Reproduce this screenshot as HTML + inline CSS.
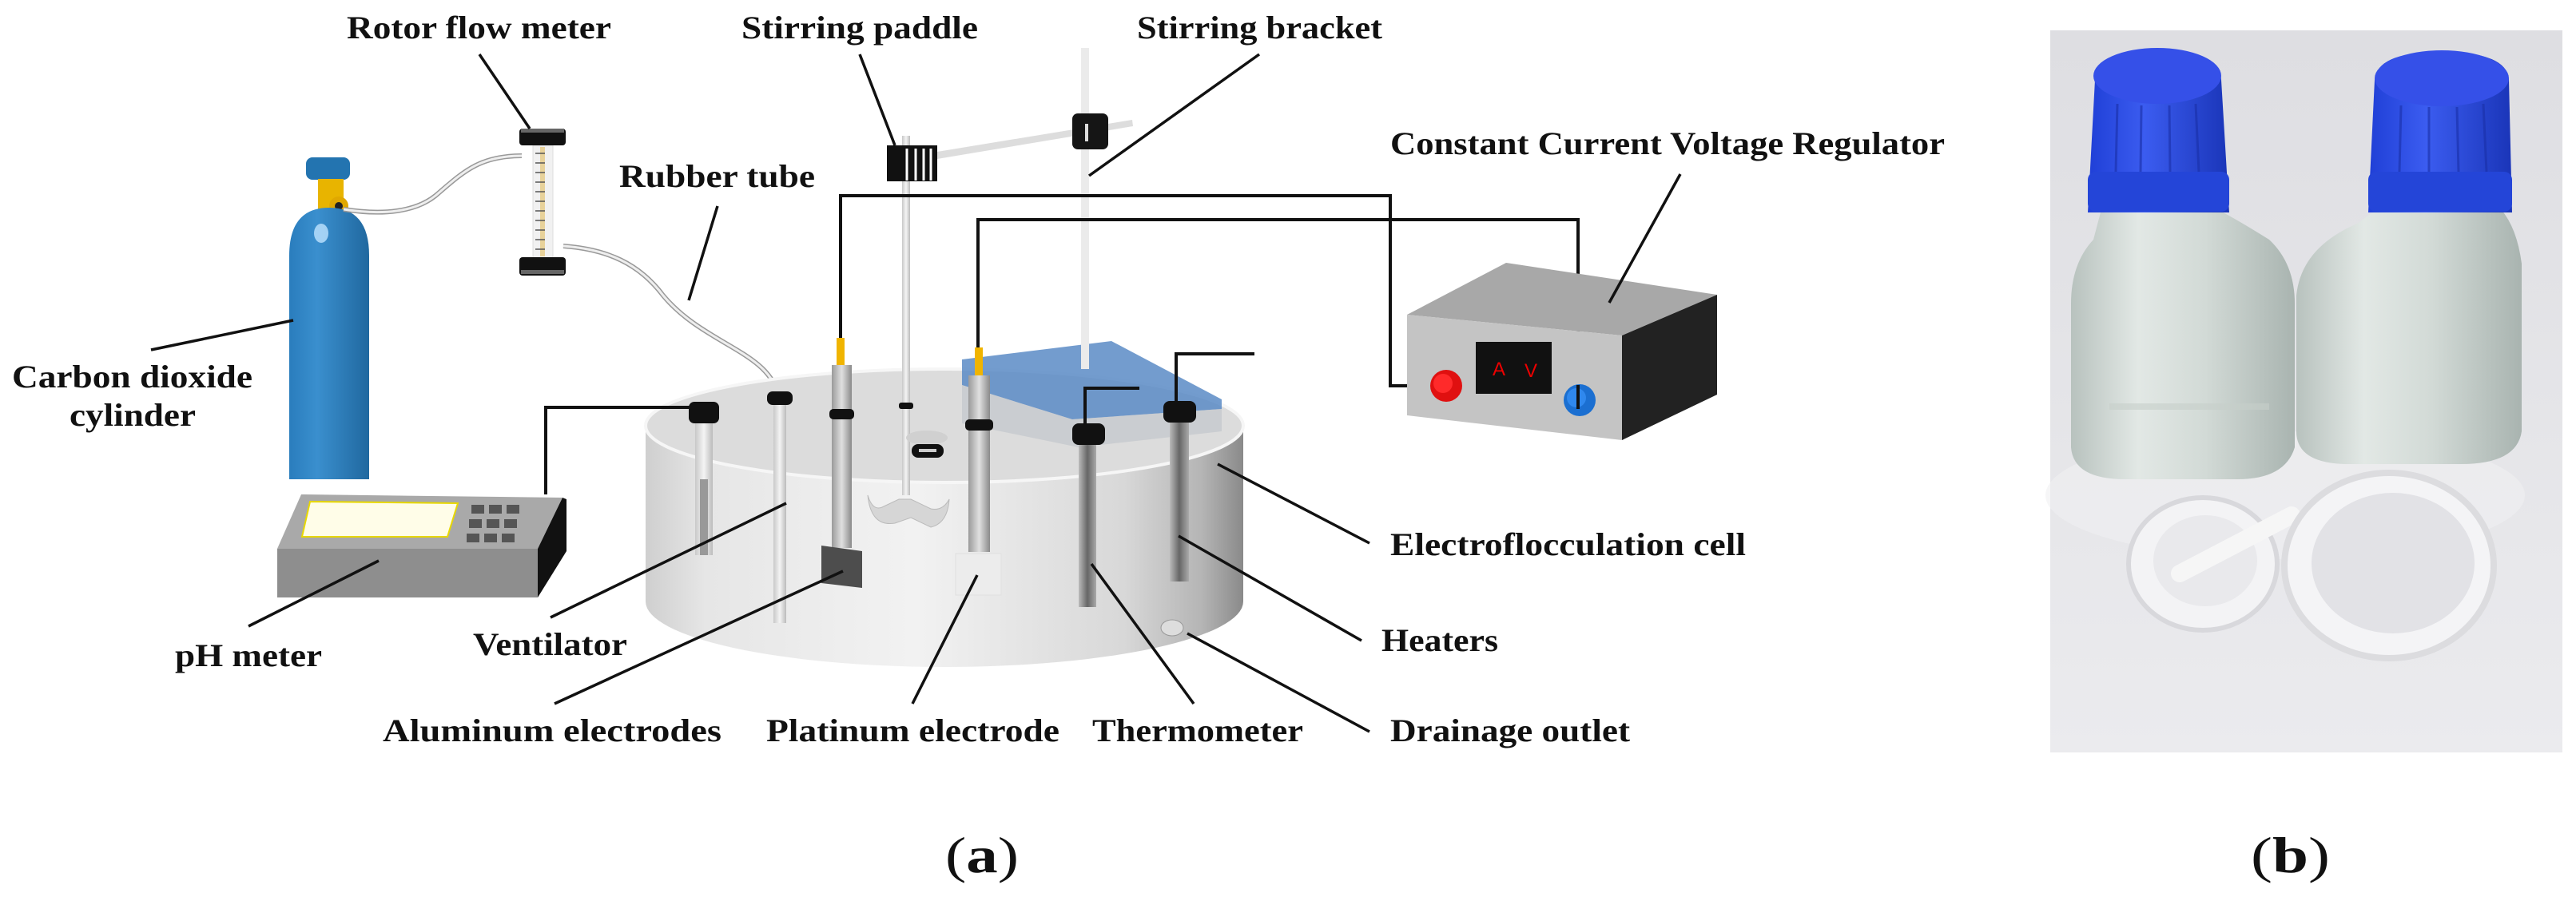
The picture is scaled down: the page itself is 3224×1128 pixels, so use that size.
<!DOCTYPE html>
<html><head><meta charset="utf-8"><style>
html,body{margin:0;padding:0;background:#fff;}
svg{display:block;}
text{font-family:"Liberation Serif",serif;font-weight:bold;fill:#111;}
</style></head><body>
<svg width="3224" height="1128" viewBox="0 0 3224 1128" xmlns="http://www.w3.org/2000/svg">
<defs>
<linearGradient id="cyl" x1="0" x2="1"><stop offset="0" stop-color="#2a7dbd"/><stop offset="0.35" stop-color="#3a8fce"/><stop offset="1" stop-color="#20689f"/></linearGradient>
<linearGradient id="cell" x1="0" x2="1"><stop offset="0" stop-color="#cfcfcf"/><stop offset="0.1" stop-color="#e6e6e6"/><stop offset="0.45" stop-color="#f2f2f2"/><stop offset="0.8" stop-color="#d8d8d8"/><stop offset="0.93" stop-color="#b5b5b5"/><stop offset="1" stop-color="#8a8a8a"/></linearGradient>
<linearGradient id="rod" x1="0" x2="1"><stop offset="0" stop-color="#9a9a9a"/><stop offset="0.5" stop-color="#e0e0e0"/><stop offset="1" stop-color="#8a8a8a"/></linearGradient>
<linearGradient id="grod" x1="0" x2="1"><stop offset="0" stop-color="#c8c8c8"/><stop offset="0.5" stop-color="#f4f4f4"/><stop offset="1" stop-color="#bbb"/></linearGradient>
<linearGradient id="dk" x1="0" x2="1"><stop offset="0" stop-color="#bbb"/><stop offset="0.5" stop-color="#666"/><stop offset="1" stop-color="#aaa"/></linearGradient>
<linearGradient id="photo" x1="0" y1="0" x2="0" y2="1"><stop offset="0" stop-color="#dedee2"/><stop offset="1" stop-color="#ebebee"/></linearGradient>
<linearGradient id="bottle" x1="0" x2="1"><stop offset="0" stop-color="#b8c2be"/><stop offset="0.3" stop-color="#e2e8e5"/><stop offset="0.6" stop-color="#d2dad6"/><stop offset="1" stop-color="#a9b4b0"/></linearGradient>
<linearGradient id="cap" x1="0" x2="1"><stop offset="0" stop-color="#1f3fd6"/><stop offset="0.4" stop-color="#3b5cf0"/><stop offset="1" stop-color="#1a35b8"/></linearGradient>
</defs>

<!-- CO2 cylinder -->
<rect x="383" y="197" width="55" height="28" rx="8" fill="#2374b0"/>
<rect x="398" y="224" width="32" height="44" fill="#e8b400"/>
<circle cx="424" cy="258" r="12" fill="#e0a800"/><circle cx="424" cy="258" r="5" fill="#222"/>
<path d="M362 600 L362 320 Q362 260 412 260 Q462 260 462 320 L462 600 Z" fill="url(#cyl)"/>
<ellipse cx="402" cy="292" rx="9" ry="12" fill="#bfe3ff" opacity="0.8"/>
<path d="M430 262 C480 270 520 265 545 245 C580 215 600 195 653 195" fill="none" stroke="#999" stroke-width="6"/>
<path d="M430 262 C480 270 520 265 545 245 C580 215 600 195 653 195" fill="none" stroke="#eee" stroke-width="3"/>
<!-- flowmeter -->
<rect x="667" y="182" width="25" height="141" fill="#f1f1f1" stroke="#ddd"/>
<rect x="676" y="184" width="6" height="137" fill="#e8d29a"/>
<g stroke="#555" stroke-width="1.5">
<line x1="670" y1="192" x2="682" y2="192"/><line x1="670" y1="204" x2="682" y2="204"/><line x1="670" y1="216" x2="682" y2="216"/><line x1="670" y1="228" x2="682" y2="228"/><line x1="670" y1="240" x2="682" y2="240"/><line x1="670" y1="252" x2="682" y2="252"/><line x1="670" y1="264" x2="682" y2="264"/><line x1="670" y1="276" x2="682" y2="276"/><line x1="670" y1="288" x2="682" y2="288"/><line x1="670" y1="300" x2="682" y2="300"/><line x1="670" y1="312" x2="682" y2="312"/></g>
<rect x="650" y="161" width="58" height="21" rx="4" fill="#111"/><rect x="652" y="161" width="54" height="5" fill="#666"/>
<rect x="650" y="322" width="58" height="23" rx="4" fill="#111"/><rect x="652" y="338" width="54" height="5" fill="#666"/>
<path d="M705 308 C760 312 800 330 830 370 C880 430 960 440 973 492" fill="none" stroke="#999" stroke-width="6"/>
<path d="M705 308 C760 312 800 330 830 370 C880 430 960 440 973 492" fill="none" stroke="#eee" stroke-width="3"/>

<!-- pH meter -->
<polygon points="377,619 704,623 673,687 347,687" fill="#a9a9a9"/>
<polygon points="388,628 573,630 560,672 378,672" fill="#fffde8" stroke="#e8d800" stroke-width="2"/>
<g fill="#555"><rect x="590" y="632" width="16" height="11"/><rect x="612" y="632" width="16" height="11"/><rect x="634" y="632" width="16" height="11"/><rect x="587" y="650" width="16" height="11"/><rect x="609" y="650" width="16" height="11"/><rect x="631" y="650" width="16" height="11"/><rect x="584" y="668" width="16" height="11"/><rect x="606" y="668" width="16" height="11"/><rect x="628" y="668" width="16" height="11"/></g>
<rect x="347" y="687" width="326" height="61" fill="#8e8e8e"/>
<polygon points="673,687 704,623 709,625 709,690 673,748" fill="#111"/>

<!-- cell -->
<path d="M808 533 L808 753 A374 82 0 0 0 1556 753 L1556 533 Z" fill="url(#cell)"/>
<ellipse cx="1182" cy="533" rx="374" ry="71" fill="#dcdcdc" stroke="#f6f6f6" stroke-width="4"/>
<polygon points="1204,450 1391,427 1529,500 1529,512 1342,525 1204,482" fill="#5b8bc6" opacity="0.85"/>
<polygon points="1204,482 1342,525 1529,512 1529,540 1350,560 1204,530" fill="#b8bdc6" opacity="0.5"/>
<rect x="1353" y="60" width="10" height="402" fill="#ebebeb"/>
<polygon points="1173,190 1417,150 1418,158 1173,199" fill="#ddd"/>
<rect x="1342" y="142" width="45" height="45" rx="7" fill="#151515"/>
<rect x="1358" y="155" width="4" height="22" fill="#ddd"/>
<rect x="1129" y="170" width="10" height="450" fill="url(#grod)"/>
<rect x="1110" y="182" width="63" height="45" fill="#111"/>
<g stroke="#fff" stroke-width="3"><line x1="1135" y1="186" x2="1135" y2="226"/><line x1="1146" y1="186" x2="1146" y2="226"/><line x1="1156" y1="186" x2="1156" y2="226"/><line x1="1165" y1="186" x2="1165" y2="226"/></g>
<rect x="1125" y="504" width="18" height="8" rx="3" fill="#111"/>
<ellipse cx="1160" cy="548" rx="26" ry="9" fill="#d0d0d0"/>
<rect x="1141" y="556" width="40" height="17" rx="8" fill="#111"/><rect x="1150" y="562" width="22" height="4" fill="#ccc"/>
<path d="M1086 620 Q1092 640 1104 635 L1125 625 L1140 625 L1165 637 Q1180 640 1188 625 Q1186 655 1165 660 L1140 648 L1120 655 Q1090 660 1086 620 Z" fill="#d6d6d6" stroke="#bbb"/>
<rect x="870" y="525" width="22" height="170" fill="url(#grod)"/><rect x="876" y="600" width="10" height="95" fill="#999"/>
<rect x="862" y="503" width="38" height="27" rx="7" fill="#111"/>
<rect x="968" y="500" width="16" height="280" fill="url(#grod)"/>
<rect x="960" y="490" width="32" height="17" rx="7" fill="#111"/>
<rect x="1047" y="423" width="10" height="36" fill="#f0b400"/>
<rect x="1041" y="457" width="25" height="229" fill="url(#rod)"/>
<rect x="1038" y="512" width="31" height="13" rx="5" fill="#111"/>
<polygon points="1028,683 1079,690 1079,736 1028,730" fill="#4d4d4d"/>
<rect x="1220" y="435" width="10" height="36" fill="#f0b400"/>
<rect x="1212" y="470" width="27" height="221" fill="url(#rod)"/>
<rect x="1208" y="525" width="35" height="14" rx="5" fill="#111"/>
<rect x="1196" y="693" width="57" height="52" fill="#ececec" stroke="#e0e0e0"/>
<rect x="1350" y="550" width="22" height="210" fill="url(#dk)"/>
<rect x="1342" y="530" width="41" height="27" rx="8" fill="#111"/>
<rect x="1464" y="520" width="24" height="208" fill="url(#dk)"/>
<rect x="1456" y="502" width="41" height="27" rx="8" fill="#111"/>
<ellipse cx="1467" cy="786" rx="14" ry="10" fill="#ddd" stroke="#999"/>

<g fill="none" stroke="#111" stroke-width="4">
<polyline points="1052,423 1052,245 1740,245 1740,483 1800,483"/>
<polyline points="1224,435 1224,275 1975,275 1975,501"/>
<polyline points="881,510 683,510 683,619"/>
<polyline points="1358,530 1358,486 1426,486"/>
<polyline points="1472,502 1472,443 1570,443"/>
</g>

<!-- power supply -->
<polygon points="1761,394 1885,329 2149,369 2030,420" fill="#a8a8a8"/>
<polygon points="1761,394 2030,420 2030,551 1761,520" fill="#c4c4c4"/>
<polygon points="2030,420 2149,369 2149,494 2030,551" fill="#222"/>
<rect x="1847" y="428" width="95" height="65" fill="#111"/>
<text x="1868" y="470" style="font-family:'Liberation Sans',sans-serif;font-weight:normal;fill:#e00;font-size:24px">A</text>
<text x="1908" y="472" style="font-family:'Liberation Sans',sans-serif;font-weight:normal;fill:#e00;font-size:24px">V</text>
<circle cx="1810" cy="483" r="20" fill="#e01010"/><circle cx="1806" cy="480" r="12" fill="#ff2a2a"/>
<circle cx="1977" cy="501" r="20" fill="#1b6fd1"/><circle cx="1973" cy="498" r="12" fill="#2f88ee"/>
<line x1="1975" y1="482" x2="1975" y2="512" stroke="#111" stroke-width="4"/>

<g stroke="#111" stroke-width="3.5" fill="none">
<line x1="600" y1="68" x2="663" y2="161"/>
<line x1="1076" y1="68" x2="1120" y2="182"/>
<line x1="1576" y1="68" x2="1363" y2="220"/>
<line x1="898" y1="258" x2="862" y2="376"/>
<line x1="189" y1="438" x2="367" y2="401"/>
<line x1="311" y1="784" x2="474" y2="702"/>
<line x1="689" y1="773" x2="984" y2="630"/>
<line x1="694" y1="881" x2="1055" y2="715"/>
<line x1="1142" y1="881" x2="1223" y2="720"/>
<line x1="1494" y1="881" x2="1366" y2="706"/>
<line x1="1524" y1="581" x2="1714" y2="680"/>
<line x1="1475" y1="671" x2="1704" y2="802"/>
<line x1="1486" y1="793" x2="1714" y2="916"/>
<line x1="2103" y1="218" x2="2014" y2="379"/>
</g>

<g font-size="40">
<text x="434" y="48" textLength="331" lengthAdjust="spacingAndGlyphs">Rotor flow meter</text>
<text x="928" y="48" textLength="296" lengthAdjust="spacingAndGlyphs">Stirring paddle</text>
<text x="1423" y="48" textLength="307" lengthAdjust="spacingAndGlyphs">Stirring bracket</text>
<text x="775" y="234" textLength="245" lengthAdjust="spacingAndGlyphs">Rubber tube</text>
<text x="15" y="485" textLength="301" lengthAdjust="spacingAndGlyphs">Carbon dioxide</text>
<text x="87" y="533" textLength="158" lengthAdjust="spacingAndGlyphs">cylinder</text>
<text x="219" y="834" textLength="184" lengthAdjust="spacingAndGlyphs">pH meter</text>
<text x="592" y="820" textLength="193" lengthAdjust="spacingAndGlyphs">Ventilator</text>
<text x="479" y="928" textLength="424" lengthAdjust="spacingAndGlyphs">Aluminum electrodes</text>
<text x="959" y="928" textLength="367" lengthAdjust="spacingAndGlyphs">Platinum electrode</text>
<text x="1367" y="928" textLength="264" lengthAdjust="spacingAndGlyphs">Thermometer</text>
<text x="1740" y="928" textLength="300" lengthAdjust="spacingAndGlyphs">Drainage outlet</text>
<text x="1729" y="815" textLength="146" lengthAdjust="spacingAndGlyphs">Heaters</text>
<text x="1740" y="695" textLength="445" lengthAdjust="spacingAndGlyphs">Electroflocculation cell</text>
<text x="1740" y="193" textLength="694" lengthAdjust="spacingAndGlyphs">Constant Current Voltage Regulator</text>
</g>
<g font-size="64">
<text x="1183" y="1092" textLength="92" lengthAdjust="spacingAndGlyphs"><tspan font-weight="normal">(</tspan>a<tspan font-weight="normal">)</tspan></text>
<text x="2817" y="1092" textLength="99" lengthAdjust="spacingAndGlyphs"><tspan font-weight="normal">(</tspan>b<tspan font-weight="normal">)</tspan></text>
</g>

<!-- photo -->
<rect x="2566" y="38" width="641" height="904" fill="url(#photo)"/>
<ellipse cx="2860" cy="620" rx="300" ry="80" fill="#f0f0f2" opacity="0.6"/>
<path d="M2630 262 L2775 262 Q2800 275 2840 300 Q2872 330 2872 380 L2872 560 Q2860 600 2800 600 L2660 600 Q2595 600 2592 560 L2592 380 Q2592 330 2620 300 Z" fill="url(#bottle)"/>
<rect x="2640" y="505" width="200" height="8" fill="#c6ceca" opacity="0.6"/>
<path d="M2622 100 Q2625 62 2700 62 Q2778 62 2780 100 L2790 266 L2613 266 Z" fill="url(#cap)"/>
<ellipse cx="2700" cy="95" rx="80" ry="35" fill="#3550e8"/>
<rect x="2613" y="215" width="177" height="50" rx="10" fill="#2445d8"/>
<g stroke="#1a30a8" stroke-width="3" opacity="0.6"><line x1="2650" y1="130" x2="2648" y2="215"/><line x1="2680" y1="132" x2="2679" y2="215"/><line x1="2715" y1="132" x2="2716" y2="215"/><line x1="2748" y1="130" x2="2752" y2="215"/></g>
<path d="M2975 262 L3130 262 Q3150 285 3156 330 L3156 540 Q3150 581 3080 581 L2940 581 Q2874 581 2874 540 L2874 370 Q2880 310 2950 280 Z" fill="url(#bottle)"/>
<path d="M2972 100 Q2975 65 3055 65 Q3138 65 3140 100 L3144 266 L2964 266 Z" fill="url(#cap)"/>
<ellipse cx="3056" cy="98" rx="84" ry="35" fill="#3550e8"/>
<rect x="2964" y="215" width="180" height="50" rx="10" fill="#2445d8"/>
<g stroke="#1a30a8" stroke-width="3" opacity="0.6"><line x1="3005" y1="132" x2="3003" y2="215"/><line x1="3040" y1="134" x2="3040" y2="215"/><line x1="3075" y1="134" x2="3077" y2="215"/><line x1="3108" y1="130" x2="3112" y2="215"/></g>
<ellipse cx="2757" cy="706" rx="93" ry="83" fill="#f3f3f5" stroke="#d8d8dc" stroke-width="6"/>
<ellipse cx="2760" cy="702" rx="65" ry="57" fill="#e9e9ec"/>
<line x1="2728" y1="718" x2="2868" y2="645" stroke="#f6f6f6" stroke-width="22" stroke-linecap="round"/>
<ellipse cx="2990" cy="708" rx="131" ry="116" fill="#f4f4f6" stroke="#dcdcdf" stroke-width="8"/>
<ellipse cx="2995" cy="705" rx="102" ry="88" fill="#e2e2e6"/>
</svg>
</body></html>
